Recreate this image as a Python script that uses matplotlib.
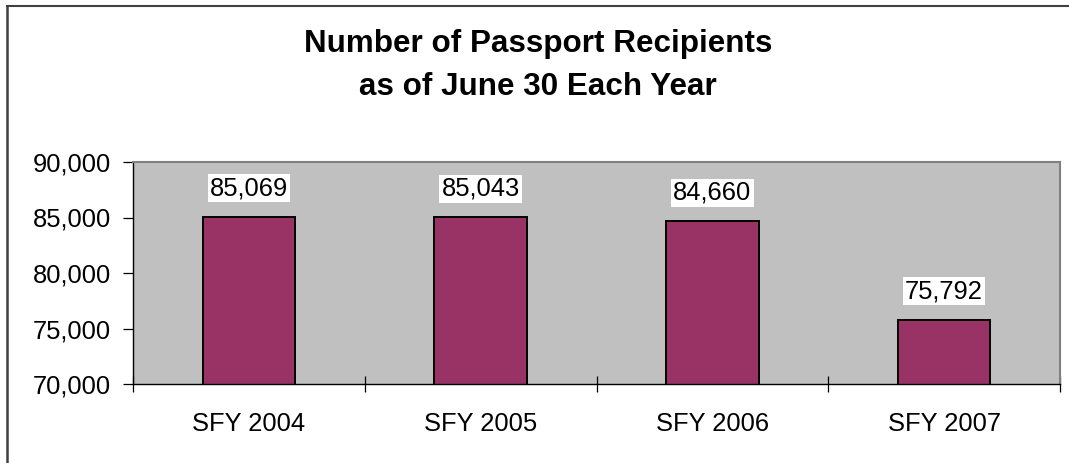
import matplotlib
matplotlib.use("Agg")
import matplotlib.pyplot as plt
from matplotlib.lines import Line2D
from matplotlib.ticker import FuncFormatter, MultipleLocator

categories = ["SFY 2004", "SFY 2005", "SFY 2006", "SFY 2007"]
values = [85069, 85043, 84660, 75792]
title_lines = ["Number of Passport Recipients", "as of June 30 Each Year"]

plt.rcParams['font.family'] = ['Liberation Sans', 'DejaVu Sans']

W, H = 1069, 463
fig = plt.figure(figsize=(W / 100, H / 100), dpi=100)
fig.patch.set_facecolor("white")

left, right, top, bottom = 133, 1060, 162, 384
ax = fig.add_axes([left / W, 1 - bottom / H, (right - left) / W, (bottom - top) / H])
ax.set_facecolor("#C0C0C0")

x = list(range(len(categories)))
ax.bar(x, values, width=0.4, color="#993366", edgecolor="black", linewidth=1.4, zorder=3)

ax.set_xlim(-0.5, len(categories) - 0.5)
ax.set_ylim(70000, 90000)
ax.yaxis.set_major_locator(MultipleLocator(5000))
ax.yaxis.set_major_formatter(FuncFormatter(lambda v, p: f"{int(v):,}"))

ax.set_xticks([i - 0.5 for i in range(len(categories) + 1)])
ax.set_xticklabels([])
ax.set_xticks(x, minor=True)
ax.set_xticklabels(categories, minor=True)
ax.tick_params(axis="x", which="minor", length=0, pad=20, labelsize=18.4)
ax.tick_params(axis="x", which="major", direction="inout", length=12, width=0.9, color="black")
ax.tick_params(axis="y", direction="out", length=7, width=0.9, labelsize=18.4, pad=9)

for s in ["top", "right"]:
    ax.spines[s].set_color("#808080")
    ax.spines[s].set_linewidth(1.5)
for s in ["left", "bottom"]:
    ax.spines[s].set_color("black")
    ax.spines[s].set_linewidth(1.0)
ax.spines["bottom"].set_zorder(5)

for xi, v in zip(x, values):
    ax.annotate(f"{v:,}", xy=(xi, v), xytext=(0, 20.5), textcoords="offset points",
                ha="center", va="center", fontsize=18.4,
                bbox=dict(boxstyle="square,pad=0.08", facecolor="white", edgecolor="none"),
                zorder=4)

fig.text(538 / W, 1 - 52 / H, title_lines[0], ha="center", va="baseline",
         fontsize=22.6, fontweight="bold")
fig.text(538 / W, 1 - 95 / H, title_lines[1], ha="center", va="baseline",
         fontsize=22.6, fontweight="bold")

# chart border (top and left visible)
fig.add_artist(Line2D([6.5 / W, 1.0], [1 - 5.5 / H, 1 - 5.5 / H], transform=fig.transFigure,
                      color="#404040", linewidth=1.5))
fig.add_artist(Line2D([7 / W, 7 / W], [0, 1 - 5.5 / H], transform=fig.transFigure,
                      color="#404040", linewidth=1.8))

fig.savefig("out.png", dpi=100)
